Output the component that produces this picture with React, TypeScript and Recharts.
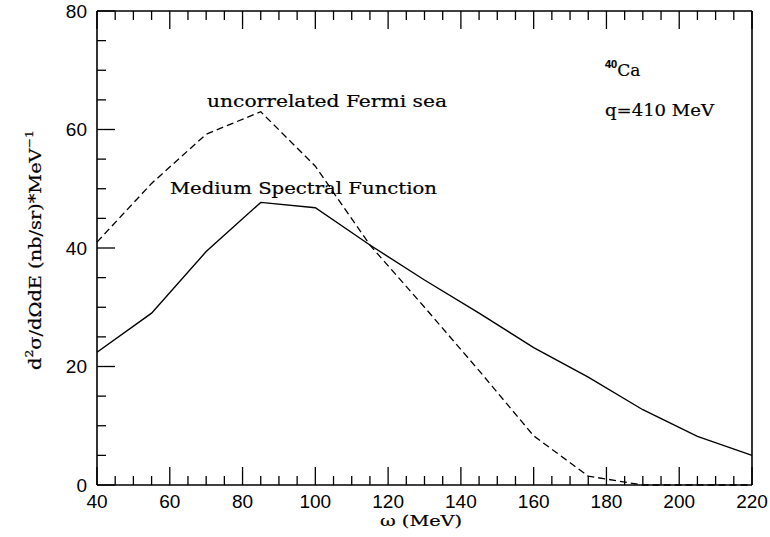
import React from "react";
import { LineChart, Line, XAxis, YAxis } from "recharts";

const omega = [40, 55, 70, 85, 100, 115, 130, 145, 160, 175, 190, 205, 220];
const spectral = [22.4, 29.0, 39.4, 47.7, 46.8, 40.5, 34.6, 29.0, 23.2, 18.2, 12.7, 8.2, 5.0];
const fermi = [41.0, 50.9, 59.2, 63.0, 53.8, 40.5, 30.0, 19.3, 8.3, 1.5, 0, 0, 0];

const xTicks = [40, 45, 50, 55, 60, 65, 70, 75, 80, 85, 90, 95, 100, 105, 110, 115, 120, 125, 130, 135, 140, 145, 150, 155, 160, 165, 170, 175, 180, 185, 190, 195, 200, 205, 210, 215, 220];
const yTicks = [0, 5, 10, 15, 20, 25, 30, 35, 40, 45, 50, 55, 60, 65, 70, 75, 80];

const data = omega.map((w, i) => ({ w, spectral: spectral[i], fermi: fermi[i] }));

const numFont = "'Liberation Sans', Arial, sans-serif";
const txtFont = "'DejaVu Serif', serif";
const TW = 1.3;

const BottomTick = (p: any) => {
  const { x, y, payload } = p;
  const major = payload.value % 20 === 0;
  return (
    <g>
      <line x1={x} y1={y} x2={x} y2={y - (major ? 18 : 9)} stroke="#000" strokeWidth={TW} />
      {major && (
        <text x={x} y={y + 23} textAnchor="middle" fontFamily={numFont} fontSize={19} fill="#000">
          {payload.value}
        </text>
      )}
    </g>
  );
};

const TopTick = (p: any) => {
  const { x, y, payload } = p;
  const major = payload.value % 20 === 0;
  return <line x1={x} y1={y} x2={x} y2={y + (major ? 18 : 9)} stroke="#000" strokeWidth={TW} />;
};

const LeftTick = (p: any) => {
  const { x, y, payload } = p;
  const major = payload.value % 20 === 0;
  return (
    <g>
      <line x1={x} y1={y} x2={x + (major ? 18 : 9)} y2={y} stroke="#000" strokeWidth={TW} />
      {major && (
        <text x={x - 10} y={y} dy="0.36em" textAnchor="end" fontFamily={numFont} fontSize={19} fill="#000">
          {payload.value}
        </text>
      )}
    </g>
  );
};

const RightTick = (p: any) => {
  const { x, y, payload } = p;
  const major = payload.value % 20 === 0;
  return <line x1={x} y1={y} x2={x - (major ? 18 : 9)} y2={y} stroke="#000" strokeWidth={TW} />;
};

const axisLine = { stroke: "#000", strokeWidth: 1.6 };

export default function App() {
  return (
    <div style={{ position: "absolute", left: 0, top: 0, width: 770, height: 537, background: "#fff" }}>
      <LineChart width={770} height={537} data={data} margin={{ top: 10, right: 17, bottom: 22, left: 37 }}>
        <XAxis
          xAxisId="b"
          dataKey="w"
          type="number"
          domain={[40, 220]}
          ticks={xTicks}
          interval={0}
          height={30}
          tickSize={0}
          tickMargin={0}
          tickLine={false}
          axisLine={axisLine}
          tick={<BottomTick />}
          orientation="bottom"
        />
        <XAxis
          xAxisId="t"
          dataKey="w"
          type="number"
          domain={[40, 220]}
          ticks={xTicks}
          interval={0}
          height={1}
          tickSize={0}
          tickMargin={0}
          tickLine={false}
          axisLine={axisLine}
          tick={<TopTick />}
          orientation="top"
        />
        <YAxis
          yAxisId="l"
          type="number"
          domain={[0, 80]}
          ticks={yTicks}
          interval={0}
          width={60}
          tickSize={0}
          tickMargin={0}
          tickLine={false}
          axisLine={axisLine}
          tick={<LeftTick />}
          orientation="left"
        />
        <YAxis
          yAxisId="r"
          type="number"
          domain={[0, 80]}
          ticks={yTicks}
          interval={0}
          width={1}
          tickSize={0}
          tickMargin={0}
          tickLine={false}
          axisLine={axisLine}
          tick={<RightTick />}
          orientation="right"
        />
        <Line
          xAxisId="b"
          yAxisId="l"
          type="linear"
          dataKey="fermi"
          stroke="#000"
          strokeWidth={1.3}
          strokeDasharray="7 4"
          dot={false}
          isAnimationActive={false}
        />
        <Line
          xAxisId="b"
          yAxisId="l"
          type="linear"
          dataKey="spectral"
          stroke="#000"
          strokeWidth={1.4}
          dot={false}
          isAnimationActive={false}
        />
      </LineChart>
      <svg
        width={770}
        height={537}
        style={{ position: "absolute", left: 0, top: 0, pointerEvents: "none" }}
      >
        <g fontFamily={txtFont} fill="#000" stroke="#000" strokeWidth={0.2}>
          <text x={207} y={107} fontSize={17} textLength={240} lengthAdjust="spacingAndGlyphs">
            uncorrelated Fermi sea
          </text>
          <text x={170} y={194} fontSize={17} textLength={267} lengthAdjust="spacingAndGlyphs">
            Medium Spectral Function
          </text>
          <text x={605} y={76} fontSize={17}>
            <tspan fontSize={11} fontFamily={numFont} fontWeight="bold" dy={-8}>40</tspan>
            <tspan dy={8}>Ca</tspan>
          </text>
          <text x={605} y={116} fontSize={17} textLength={109} lengthAdjust="spacingAndGlyphs">
            q=410 MeV
          </text>
          <text x={380} y={526} fontSize={15.5} textLength={82} lengthAdjust="spacingAndGlyphs">
            ω (MeV)
          </text>
          <text
            transform="translate(41,250) rotate(-90)"
            x={-120}
            y={0}
            fontSize={17}
            textLength={240}
            lengthAdjust="spacingAndGlyphs"
          >
            d<tspan fontSize={11} dy={-8}>2</tspan>
            <tspan dy={8}>σ/dΩdE (nb/sr)*MeV</tspan>
            <tspan fontSize={11} dy={-8}>−1</tspan>
          </text>
        </g>
      </svg>
    </div>
  );
}
